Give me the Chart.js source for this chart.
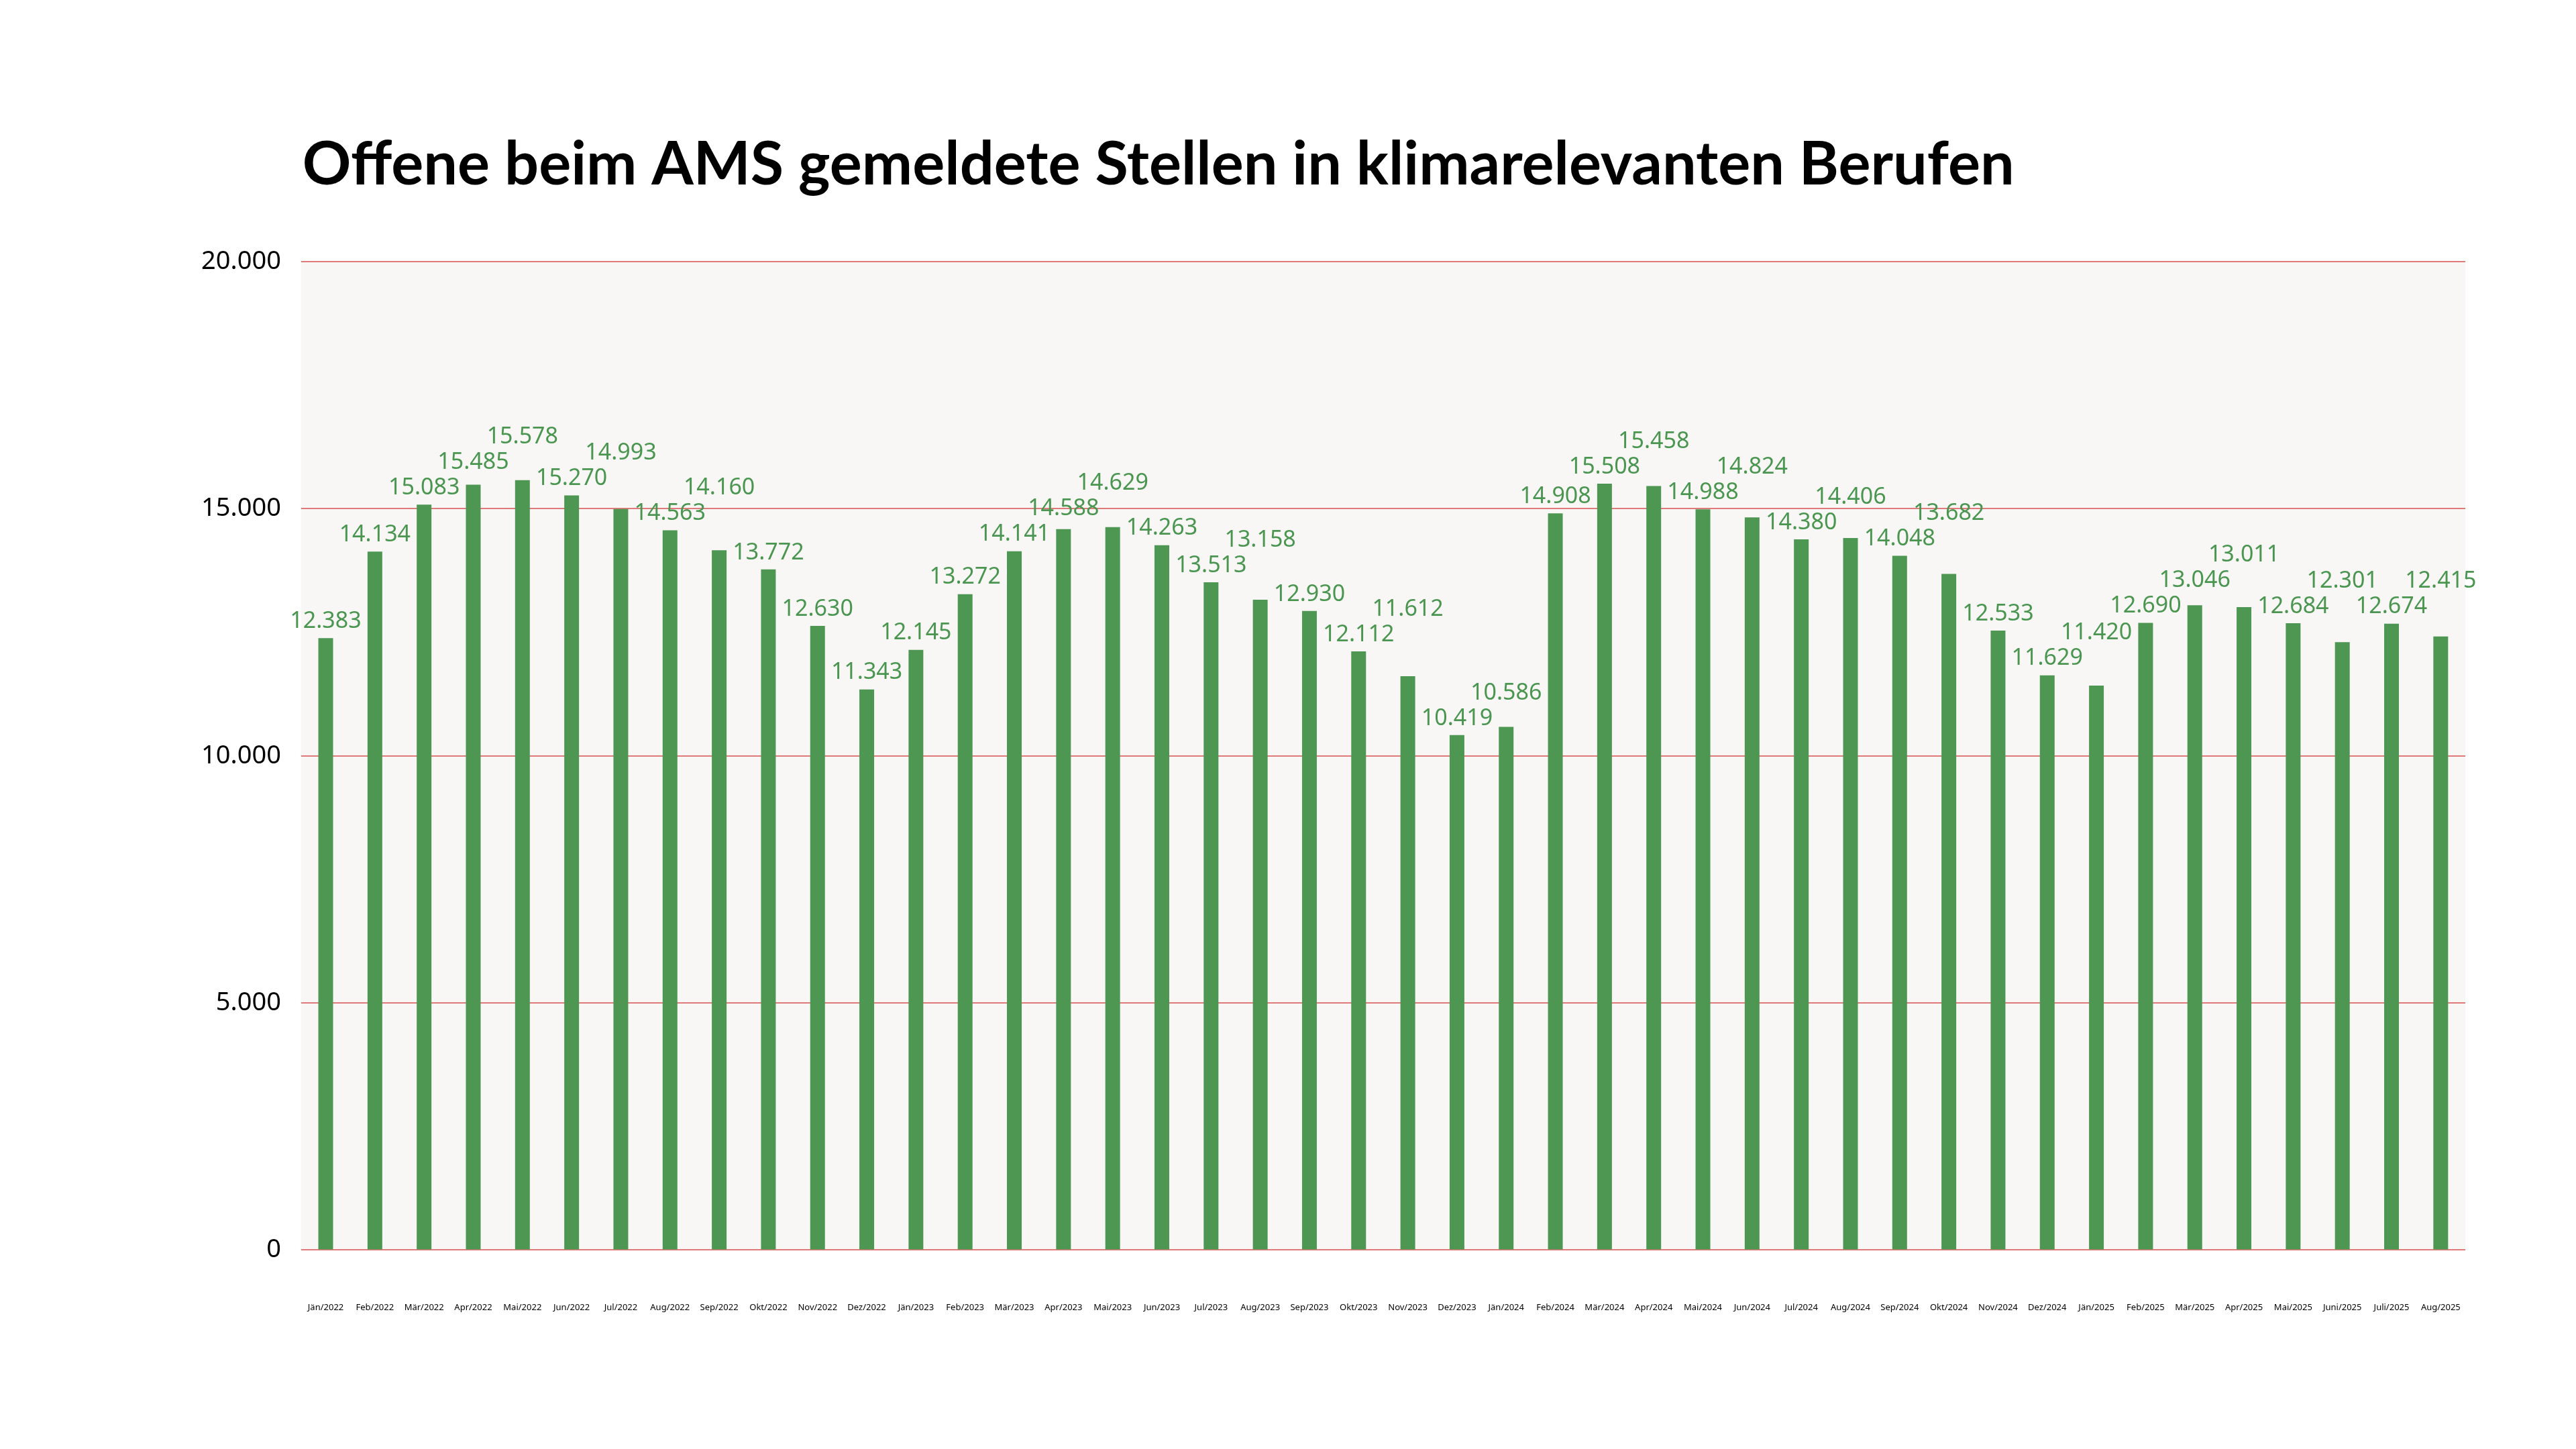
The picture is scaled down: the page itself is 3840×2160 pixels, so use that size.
<!DOCTYPE html>
<html><head><meta charset="utf-8">
<script src="https://cdn.jsdelivr.net/npm/chart.js@4"></script>
<style>body{margin:0;background:#fff}canvas{display:block}</style>
</head><body>
<canvas id="c" width="3840" height="2160"></canvas>
<script>
const months = ['Jän','Feb','Mär','Apr','Mai','Jun','Jul','Aug','Sep','Okt','Nov','Dez'];
const labels = [];
for (let y = 2022; y <= 2025; y++) months.forEach((m, i) => { if (y < 2025 || i < 8) labels.push((y == 2025 && m == 'Jun') ? 'Juni/2025' : (y == 2025 && m == 'Jul') ? 'Juli/2025' : m + '/' + y) });
const values = [12383,14134,15083,15485,15578,15270,14993,14563,14160,13772,12630,11343,
  12145,13272,14141,14588,14629,14263,13513,13158,12930,12112,11612,10419,
  10586,14908,15508,15458,14988,14824,14380,14406,14048,13682,12533,11629,
  11420,12690,13046,13011,12684,12301,12674,12415];
const yTicks = [0,5000,10000,15000,20000];
const title = 'Offene beim AMS gemeldete Stellen in klimarelevanten Berufen';
const fmt = v => v.toLocaleString('de-DE');

const bgPlugin = {
  id: 'bg',
  beforeDraw(chart) {
    const a = chart.chartArea, ctx = chart.ctx;
    ctx.save(); ctx.fillStyle = '#f8f7f5';
    ctx.fillRect(a.left, a.top, a.right - a.left, a.bottom - a.top);
    ctx.fillStyle = '#000'; ctx.font = 'bold 90px Lato'; ctx.textBaseline = 'alphabetic';
    ctx.fillText(title, a.left + 2, 275);
    ctx.restore();
  }
};
// labels sit above bars; when one collides with its neighbour to the left it is lifted
const valuePlugin = {
  id: 'vals',
  afterDatasetsDraw(chart) {
    const ctx = chart.ctx, meta = chart.getDatasetMeta(0);
    ctx.save();
    ctx.fillStyle = '#4a9650'; ctx.font = '34px "Noto Sans"';
    ctx.textAlign = 'center'; ctx.textBaseline = 'bottom';
    let prev = null;
    meta.data.forEach((b, i) => {
      const t = fmt(values[i]), w = ctx.measureText(t).width, h = 38;
      let y = b.y - 8;
      if (prev && b.x - w / 2 < prev.r + 4 && y > prev.y - h && y - h < prev.y) y = prev.y - h;
      ctx.fillText(t, b.x, y);
      prev = { r: b.x + w / 2, y: y };
    });
    ctx.restore();
  }
};

new Chart(document.getElementById('c'), {
  type: 'bar',
  data: { labels: labels, datasets: [{ data: values, backgroundColor: '#4d9753', barPercentage: 0.3, categoryPercentage: 1 }] },
  options: {
    responsive: false, animation: false, devicePixelRatio: 1,
    layout: { padding: { left: 270, right: 165, top: 390, bottom: 133 } },
    plugins: { legend: { display: false }, tooltip: { enabled: false }, title: { display: false } },
    scales: {
      x: { grid: { display: false }, border: { display: false },
        ticks: { color: '#000', font: { family: 'Noto Sans', size: 13 }, maxRotation: 0, autoSkip: false, padding: 70 } },
      y: { min: 0, max: 20000, afterBuildTicks: ax => { ax.ticks = yTicks.map(v => ({ value: v })) },
        grid: { color: '#e07a7a', lineWidth: 2, drawTicks: false }, border: { display: false },
        ticks: { color: '#000', font: { family: 'Noto Sans', size: 38 }, padding: 30, callback: v => fmt(v) } }
    }
  },
  plugins: [bgPlugin, valuePlugin]
});
</script>
</body></html>
